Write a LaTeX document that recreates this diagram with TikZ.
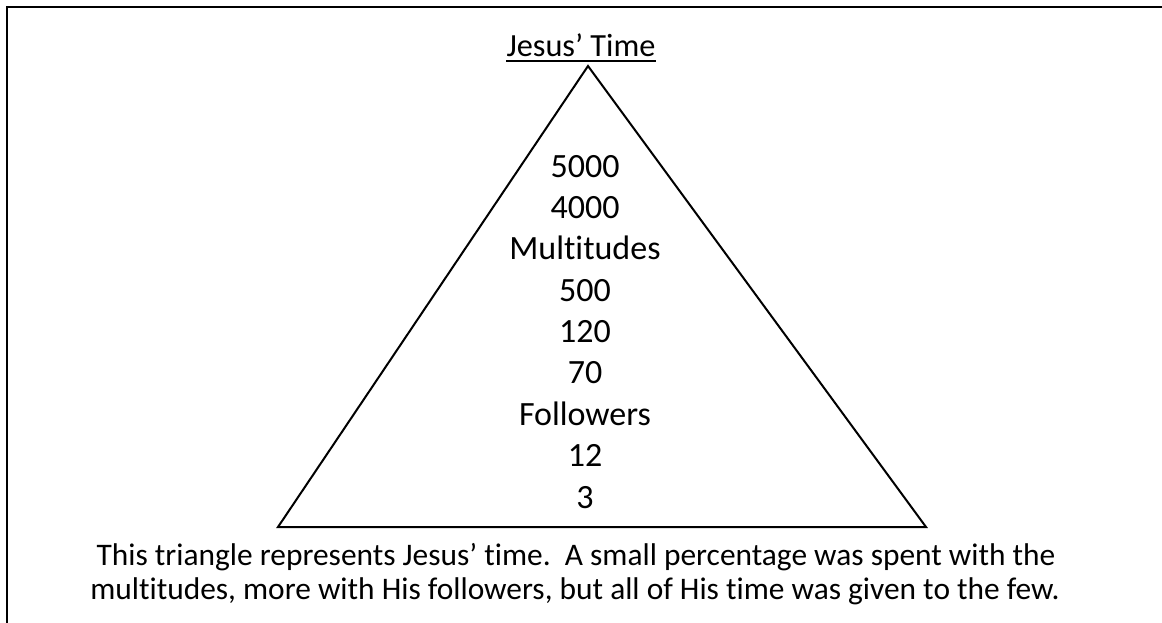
\documentclass[tikz,border=0pt]{standalone}
\usepackage{fontspec}
\setmainfont{Carlito}[Ligatures=NoCommon]
\begin{document}
\begin{tikzpicture}[x=1pt,y=-1pt,
  lbl/.style={font=\fontsize{34}{41}\selectfont, inner sep=0pt, anchor=base},
  captext/.style={font=\fontsize{31.4}{38}\selectfont, inner sep=0pt, anchor=base},
  ttl/.style={font=\fontsize{32.3}{39}\selectfont, inner sep=0pt, anchor=base},
  frame/.style={line width=2pt},
  tri/.style={line width=2pt, line join=miter}]
\useasboundingbox (0,0) rectangle (1162,623);
\draw[frame] (7,623) -- (7,7) -- (1162,7);
\coordinate (apex) at (588,66);
\coordinate (bl) at (278,527);
\coordinate (br) at (926,527);
\draw[tri] (apex) -- (bl) -- (br) -- cycle;
\node[ttl] (title) at (581,57) {Jesus’ Time};
\draw[line width=1.6pt] ([yshift=-4pt]title.base west) -- ([yshift=-4pt]title.base east);
\node[lbl] (n1) at (585,177.0) {5000};
\node[lbl] (n2) at (585,218.4) {4000};
\node[lbl] (n3) at (585,259.8) {Multitudes};
\node[lbl] (n4) at (585,301.1) {500};
\node[lbl] (n5) at (585,342.5) {120};
\node[lbl] (n6) at (585,383.9) {70};
\node[lbl] (n7) at (585,425.3) {Followers};
\node[lbl] (n8) at (585,466.6) {12};
\node[lbl] (n9) at (585,508.0) {3};
\node[captext] (c1) at (576,565) {This triangle represents Jesus’ time.\ \ A small percentage was spent with the};
\node[captext] (c2) at (575,599) {multitudes, more with His followers, but all of His time was given to the few.};
\end{tikzpicture}
\end{document}
